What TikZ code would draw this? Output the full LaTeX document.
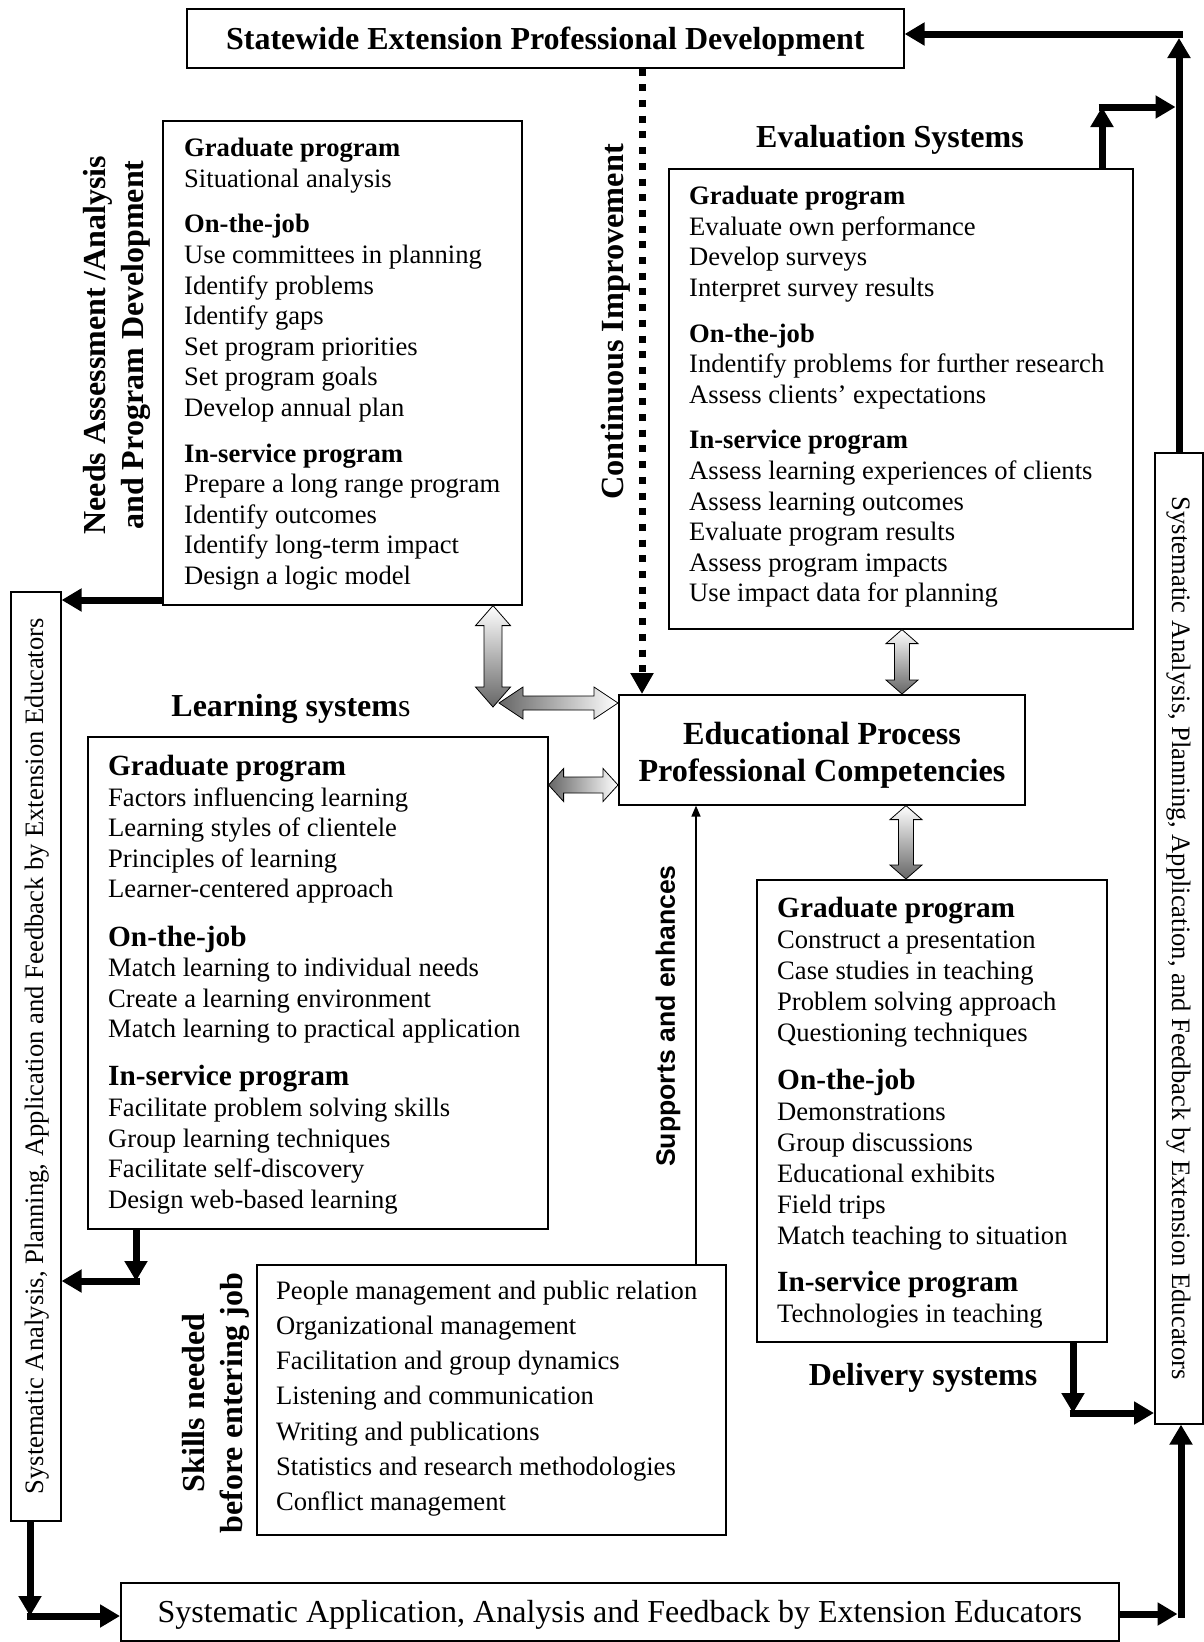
\documentclass[tikz,border=0pt]{standalone}
\usepackage{fontspec}
\setmainfont{Liberation Serif}
\newfontfamily\sansf{Liberation Sans}
\usetikzlibrary{arrows.meta,calc}
\newcommand\fs[2]{\fontsize{#1}{#2}\selectfont}
\newcommand\hd[1]{\textbf{#1}}
\newcommand\hdb[1]{\textbf{\fontsize{29.3}{30}\selectfont #1}}
% vertical double arrow: #1 top tip, #2 bottom tip, #3 shaft half, #4 head half, #5 head length
\newcommand\vdbl[5]{%
 \shade[top color=white, bottom color=black!60, draw=black, line width=0.8pt]
 let \p1=#1, \p2=#2 in
 (\x1,\y1) -- (\x1+#4,\y1-#5) -- (\x1+#3,\y1-#5) -- (\x1+#3,\y2+#5) -- (\x1+#4,\y2+#5)
 -- (\x1,\y2) -- (\x1-#4,\y2+#5) -- (\x1-#3,\y2+#5) -- (\x1-#3,\y1-#5) -- (\x1-#4,\y1-#5) -- cycle;}
% horizontal double arrow: #1 left tip, #2 right tip
\newcommand\hdbl[5]{%
 \shade[left color=black!60, right color=white, draw=black, line width=0.8pt]
 let \p1=#1, \p2=#2 in
 (\x1,\y1) -- (\x1+#5,\y1+#4) -- (\x1+#5,\y1+#3) -- (\x2-#5,\y1+#3) -- (\x2-#5,\y1+#4)
 -- (\x2,\y1) -- (\x2-#5,\y1-#4) -- (\x2-#5,\y1-#3) -- (\x1+#5,\y1-#3) -- (\x1+#5,\y1-#4) -- cycle;}
\begin{document}
\begin{tikzpicture}[x=1pt,y=-1pt,
  box/.style={draw, line width=1.6pt, inner sep=0pt, anchor=north west},
  btext/.style={anchor=north west, align=left, inner sep=0pt, font=\fs{26.6}{30.6}},
  heading/.style={inner sep=0pt, font=\fs{32}{36}\bfseries},
  big/.style={line width=7pt, -{Triangle[length=20pt,width=22pt]}},
  thinarrow/.style={line width=1.6pt, -{Triangle[length=11pt,width=9pt]}}
]
\useasboundingbox (0,0) rectangle (1204,1642);
\fill[white] (0,0) rectangle (1204,1642);

% boxes
\node[box, minimum width=717pt, minimum height=59pt] (topbox) at (186,8) {};
\node[box, minimum width=359pt, minimum height=484pt] (needs) at (162,120) {};
\node[box, minimum width=464pt, minimum height=460pt] (eval) at (668,168) {};
\node[box, minimum width=406pt, minimum height=110pt] (edu) at (618,694) {};
\node[box, minimum width=460pt, minimum height=492pt] (learn) at (87,736) {};
\node[box, minimum width=350pt, minimum height=462pt] (deliv) at (756,879) {};
\node[box, minimum width=469pt, minimum height=270pt] (skills) at (256,1264) {};
\node[box, minimum width=998pt, minimum height=58pt] (bottom) at (120,1582) {};
\node[box, minimum width=50pt, minimum height=929pt] (leftbox) at (10,591) {};
\node[box, minimum width=48pt, minimum height=971pt] (rightbox) at (1154,452) {};

% box texts
\node[heading] (toptext) at ($(topbox.center)+(0,3)$) {Statewide Extension Professional Development};
\node[heading, font=\fs{32.2}{36.5}\bfseries, align=center] (edutext) at (822,755) {Educational Process\\Professional Competencies};
\node[inner sep=0pt, font=\fs{32}{36}] (bottomtext) at ($(bottom.center)+(0,3)$) {Systematic Application, Analysis and Feedback by Extension Educators};
\node[inner sep=0pt, font=\fs{26.6}{30}, rotate=90] (lefttext) at ($(leftbox.center)+(1,0)$) {Systematic Analysis, Planning, Application and Feedback by Extension Educators};
\node[inner sep=0pt, font=\fs{26.6}{30}, rotate=-90] (righttext) at (rightbox.center) {Systematic Analysis, Planning, Application, and Feedback by Extension Educators};

\node[btext] (needstext) at (184,138) {\hd{Graduate program}\\
Situational analysis\\[15pt]
\hd{On-the-job}\\
Use committees in planning\\
Identify problems\\
Identify gaps\\
Set program priorities\\
Set program goals\\
Develop annual plan\\[15pt]
\hd{In-service program}\\
Prepare a long range program\\
Identify outcomes\\
Identify long-term impact\\
Design a logic model};

\node[btext] (evaltext) at (689,186) {\hd{Graduate program}\\
Evaluate own performance\\
Develop surveys\\
Interpret survey results\\[15pt]
\hd{On-the-job}\\
Indentify problems for further research\\
Assess clients’ expectations\\[15pt]
\hd{In-service program}\\
Assess learning experiences of clients\\
Assess learning outcomes\\
Evaluate program results\\
Assess program impacts\\
Use impact data for planning};

\node[btext] (learntext) at (108,755) {\hdb{Graduate program}\\
Factors influencing learning\\
Learning styles of clientele\\
Principles of learning\\
Learner-centered approach\\[17.5pt]
\hdb{On-the-job}\\
Match learning to individual needs\\
Create a learning environment\\
Match learning to practical application\\[17.5pt]
\hdb{In-service program}\\
Facilitate problem solving skills\\
Group learning techniques\\
Facilitate self-discovery\\
Design web-based learning};

\node[btext, font=\fs{26.6}{31}] (delivtext) at (777,897) {\hdb{Graduate program}\\
Construct a presentation\\
Case studies in teaching\\
Problem solving approach\\
Questioning techniques\\[16.5pt]
\hdb{On-the-job}\\
Demonstrations\\
Group discussions\\
Educational exhibits\\
Field trips\\
Match teaching to situation\\[16.5pt]
\hdb{In-service program}\\
Technologies in teaching};

\node[btext, font=\fs{26.6}{35.1}] (skillstext) at (276,1281) {People management and public relation\\
Organizational management\\
Facilitation and group dynamics\\
Listening and communication\\
Writing and publications\\
Statistics and research methodologies\\
Conflict management};

% headings
\node[heading] (evalhead) at (890,140) {Evaluation Systems};
\node[heading] (learnhead) at (291,709) {Learning system\mdseries s};
\node[heading] (delivhead) at (923,1378) {Delivery systems};
\node[heading, align=center, font=\fs{32}{38}\bfseries, rotate=90] (needshead) at (117,345) {Needs Assessment /Analysis\\and Program Development};
\node[heading, align=center, font=\fs{32}{37.7}\bfseries, rotate=90] (skillshead) at (216,1403) {Skills needed\\before entering job};
\node[heading, font=\fs{32.3}{36}\bfseries, rotate=90] (conthead) at (616,322) {Continuous Improvement};
\node[inner sep=0pt, font=\fs{26.6}{30}\sansf\bfseries, rotate=90] (supphead) at (668,1016) {Supports and enhances};

% dotted arrow
\coordinate (cdot) at (642,0);
\draw[line width=7pt, dash pattern=on 7pt off 8.7pt, -{Triangle[length=21pt,width=22pt]}] (topbox.south -| cdot) -- (edu.north -| cdot);

% thin arrow
\coordinate (csup) at (696,0);
\draw[thinarrow] (skills.north -| csup) -- (edu.south -| csup);

% gradient double arrows
\vdbl{(needs.south -| 493,0)}{(493,707)}{9pt}{17.5pt}{20pt}
\hdbl{(499,703)}{(edu.west |- 0,703)}{7pt}{16pt}{24pt}
\hdbl{(learn.east |- 0,785)}{(edu.west |- 0,785)}{8pt}{16.5pt}{15pt}
\vdbl{(eval.south -| 902,0)}{(edu.north -| 902,0)}{7.5pt}{16pt}{14pt}
\vdbl{(edu.south -| 906,0)}{(deliv.north -| 906,0)}{7.5pt}{16pt}{14pt}

% thick arrows
\coordinate (rx) at (1179,0);
\coordinate (tr) at (1179,38);
\draw[big] (rightbox.north -| rx) -- (tr);
\draw[big] (1182.5,34) -- (topbox.east |- 0,34);

\coordinate (ec) at (1102,107);
\draw[big] (eval.north -| ec) -- (ec);
\draw[big] ($(ec)+(-3.5,0)$) -- (1175.5,107);

\draw[big] (needs.west |- 0,600) -- (leftbox.east |- 0,600);

\coordinate (lc) at (136,1281);
\draw[big] (learn.south -| lc) -- (lc);
\draw[big] ($(lc)+(3.5,0)$) -- (leftbox.east |- lc);

\coordinate (dc) at (1073,1413);
\draw[big] (deliv.south -| dc) -- (dc);
\draw[big] ($(dc)+(-3.5,0)$) -- (rightbox.west |- dc);

\coordinate (bc) at (30,1616);
\draw[big] (leftbox.south -| bc) -- (bc);
\draw[big] ($(bc)+(-3.5,0)$) -- (bottom.west |- bc);

\coordinate (rc) at (1181,1614);
\draw[big] (bottom.east |- rc) -- (1177.5,1614);
\draw[big] (1181,1617.5) -- (rightbox.south -| rc);
\end{tikzpicture}
\end{document}
